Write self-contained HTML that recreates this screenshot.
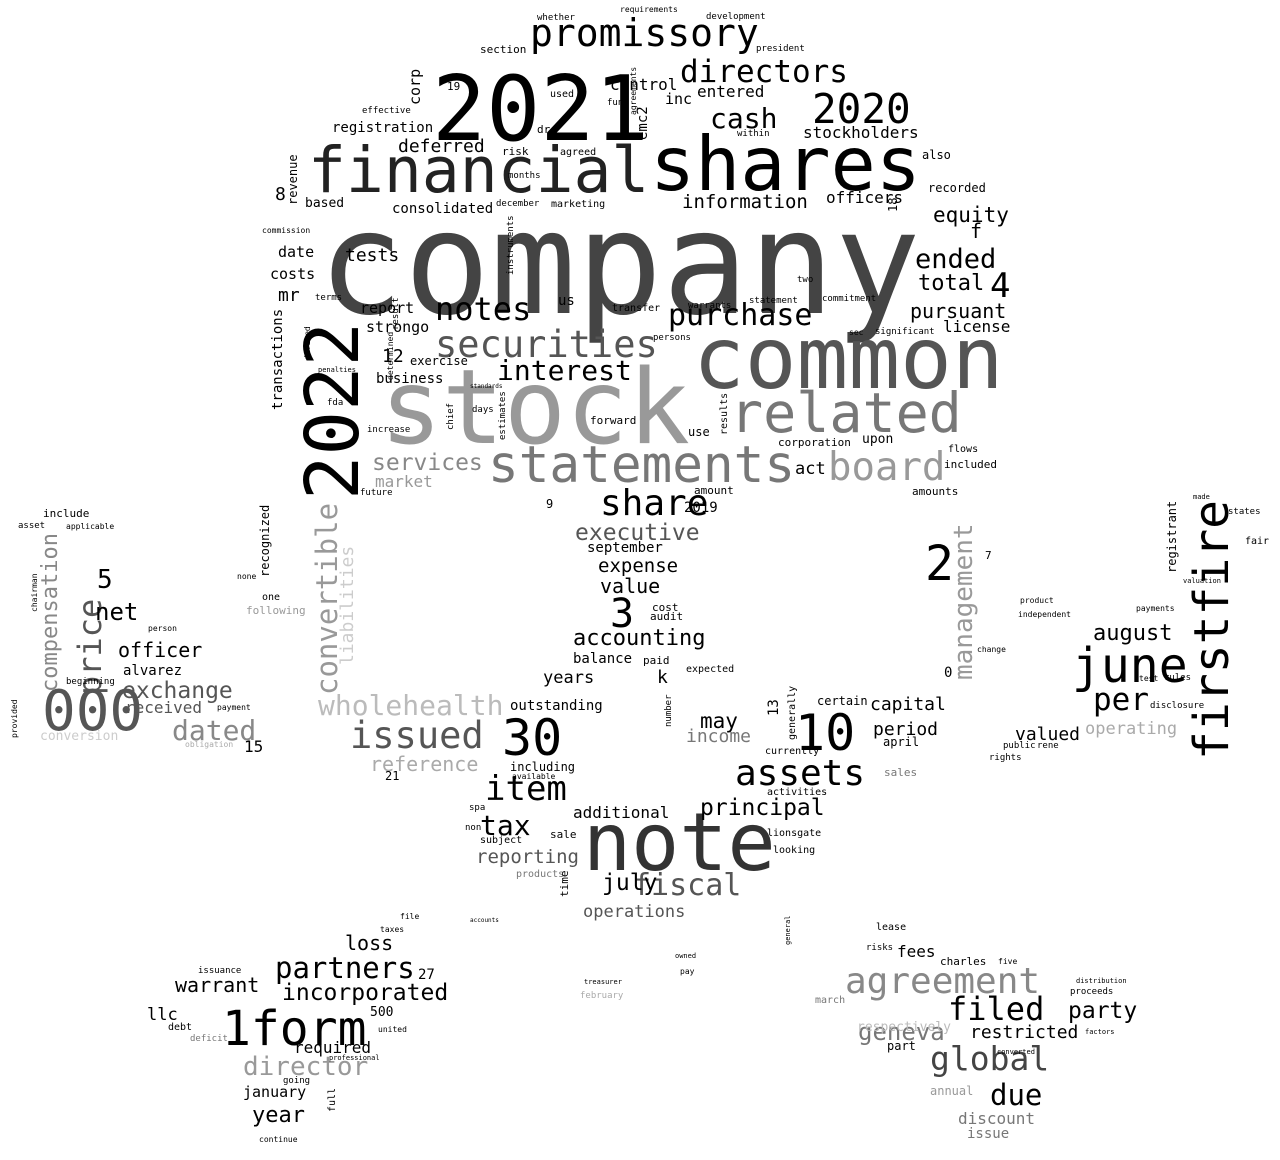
<!DOCTYPE html>
<html>
<head>
<meta charset="utf-8">
<style>
  html,body{margin:0;padding:0;background:#fff;}
  #cloud{display:block;}
  text{font-family:"DejaVu Sans Mono","Liberation Mono",monospace;}
</style>
</head>
<body>
<svg id="cloud" width="1280" height="1160" viewBox="0 0 1280 1160" xmlns="http://www.w3.org/2000/svg">
  <rect width="1280" height="1160" fill="#ffffff"/>
  <g id="words"></g>
</svg>
<script>
// word, font size (weight), x, y (baseline), color, vertical(1)
const words = [
["company",143,318,313,"#444",0],
["stock",103,380,443,"#999",0],
["common",86,693,388,"#555",0],
["shares",75,650,190,"#000",0],
["financial",63,308,192,"#222",0],
["2021",90,432,140,"#000",0],
["note",80,583,870,"#333",0],
["2022",74,358,500,"#000",1],
["statements",51,488,482,"#777",0],
["related",55,730,432,"#777",0],
["agreement",36,845,993,"#888",0],
["june",48,1072,682,"#000",0],
["firstfire",48,1228,760,"#000",1],
["1form",48,222,1045,"#000",0],
["000",56,42,730,"#555",0],
["10",50,795,750,"#000",0],
["30",50,502,755,"#000",0],
["2020",41,812,123,"#000",0],
["promissory",38,530,46,"#000",0],
["directors",31,680,82,"#000",0],
["securities",37,435,357,"#555",0],
["notes",32,435,320,"#000",0],
["purchase",30,668,325,"#000",0],
["interest",28,497,380,"#000",0],
["board",39,828,480,"#999",0],
["share",36,600,515,"#000",0],
["issued",37,350,748,"#555",0],
["assets",36,735,785,"#000",0],
["global",33,930,1070,"#444",0],
["filed",32,948,1020,"#000",0],
["partners",29,275,978,"#000",0],
["incorporated",23,282,1000,"#000",0],
["item",34,485,800,"#000",0],
["tax",28,480,835,"#000",0],
["fiscal",30,633,895,"#555",0],
["july",23,602,890,"#000",0],
["principal",23,700,815,"#000",0],
["wholehealth",28,318,715,"#bbb",0],
["convertible",29,337,695,"#999",1],
["dated",28,172,740,"#888",0],
["director",26,243,1075,"#999",0],
["year",22,252,1122,"#000",0],
["cash",28,710,128,"#000",0],
["price",32,101,695,"#555",1],
["compensation",22,57,692,"#888",1],
["management",26,972,680,"#999",1],
["2",48,925,580,"#000",0],
["3",40,610,627,"#000",0],
["4",34,990,297,"#000",0],
["5",26,97,588,"#000",0],
["due",29,990,1105,"#000",0],
["party",23,1068,1018,"#000",0],
["geneva",24,858,1040,"#777",0],
["restricted",18,970,1038,"#000",0],
["exchange",23,122,698,"#555",0],
["officer",20,118,657,"#000",0],
["net",24,95,620,"#000",0],
["per",31,1093,710,"#000",0],
["august",22,1093,640,"#000",0],
["accounting",22,573,645,"#000",0],
["executive",23,575,540,"#555",0],
["expense",19,598,572,"#000",0],
["value",20,600,593,"#000",0],
["years",17,543,683,"#000",0],
["balance",14,573,663,"#000",0],
["outstanding",14,510,710,"#000",0],
["additional",16,573,818,"#000",0],
["reporting",19,476,863,"#555",0],
["operations",17,583,917,"#555",0],
["reference",20,370,771,"#aaa",0],
["services",23,372,470,"#888",0],
["market",16,375,487,"#999",0],
["act",17,795,474,"#000",0],
["equity",21,933,222,"#000",0],
["ended",27,915,268,"#000",0],
["total",22,918,290,"#000",0],
["pursuant",20,910,318,"#000",0],
["license",16,943,332,"#000",0],
["information",19,682,208,"#000",0],
["officers",16,826,203,"#000",0],
["consolidated",14,392,213,"#000",0],
["deferred",18,398,152,"#000",0],
["registration",14,332,132,"#000",0],
["stockholders",16,803,138,"#000",0],
["entered",16,697,97,"#000",0],
["inc",15,665,104,"#000",0],
["control",16,610,90,"#000",0],
["tests",18,345,261,"#000",0],
["report",15,360,313,"#000",0],
["strongo",15,366,332,"#000",0],
["business",14,376,383,"#000",0],
["12",18,382,362,"#000",0],
["mr",18,278,301,"#000",0],
["costs",15,270,279,"#000",0],
["date",15,278,257,"#000",0],
["capital",18,870,710,"#000",0],
["period",18,873,735,"#000",0],
["valued",18,1015,740,"#000",0],
["operating",17,1085,734,"#aaa",0],
["income",18,686,742,"#777",0],
["may",21,700,728,"#000",0],
["k",18,657,683,"#000",0],
["loss",20,345,950,"#000",0],
["warrant",20,175,992,"#000",0],
["llc",17,147,1020,"#000",0],
["required",16,294,1053,"#000",0],
["january",15,243,1097,"#000",0],
["500",13,370,1016,"#000",0],
["27",14,418,979,"#000",0],
["15",16,244,752,"#000",0],
["received",16,125,713,"#555",0],
["alvarez",14,123,675,"#000",0],
["fees",16,897,957,"#000",0],
["discount",16,958,1124,"#777",0],
["issue",14,967,1138,"#777",0],
["charles",11,940,965,"#000",0],
["part",12,887,1050,"#000",0],
["annual",12,930,1095,"#999",0],
["respectively",13,857,1031,"#bbb",0],
["lease",10,876,930,"#000",0],
["risks",9,866,950,"#000",0],
["march",10,815,1003,"#777",0],
["sales",11,884,776,"#777",0],
["april",12,883,746,"#000",0],
["currently",10,765,754,"#000",0],
["certain",12,817,705,"#000",0],
["13",14,778,716,"#000",1],
["activities",10,767,795,"#000",0],
["lionsgate",10,767,836,"#000",0],
["looking",10,773,853,"#000",0],
["expected",10,686,672,"#000",0],
["paid",11,643,664,"#000",0],
["audit",11,650,620,"#000",0],
["cost",11,652,611,"#000",0],
["september",14,587,552,"#000",0],
["2019",14,684,512,"#000",0],
["9",12,546,508,"#000",0],
["amount",11,694,494,"#000",0],
["amounts",11,912,495,"#000",0],
["included",11,944,468,"#000",0],
["flows",10,948,452,"#000",0],
["upon",13,862,443,"#000",0],
["corporation",11,778,446,"#000",0],
["use",12,688,436,"#000",0],
["forward",11,590,424,"#000",0],
["increase",9,367,432,"#000",0],
["future",9,360,495,"#000",0],
["fda",9,327,405,"#000",0],
["terms",9,315,300,"#000",0],
["based",13,305,207,"#000",0],
["corp",15,420,105,"#000",1],
["emc2",14,647,140,"#000",1],
["19",11,447,90,"#000",0],
["risk",11,502,155,"#000",0],
["agreed",10,560,155,"#000",0],
["dr",11,537,133,"#000",0],
["used",10,550,97,"#000",0],
["fund",9,607,105,"#000",0],
["months",9,508,178,"#000",0],
["december",9,496,206,"#000",0],
["marketing",10,551,207,"#000",0],
["effective",9,362,113,"#000",0],
["section",11,480,53,"#000",0],
["whether",9,537,20,"#000",0],
["development",9,706,19,"#000",0],
["requirements",8,620,12,"#000",0],
["president",9,756,51,"#000",0],
["within",9,737,136,"#000",0],
["also",12,922,159,"#000",0],
["recorded",12,928,192,"#000",0],
["f",20,970,238,"#000",0],
["18",12,897,212,"#000",1],
["8",18,275,200,"#000",0],
["revenue",12,297,205,"#000",1],
["commission",8,262,233,"#000",0],
["us",14,558,305,"#000",0],
["transfer",10,612,311,"#000",0],
["warrants",9,688,308,"#000",0],
["statement",9,749,303,"#000",0],
["two",9,797,282,"#000",0],
["commitment",9,822,301,"#000",0],
["sec",8,849,335,"#000",0],
["significant",9,875,334,"#000",0],
["persons",9,653,340,"#000",0],
["exercise",12,410,365,"#000",0],
["transactions",14,282,410,"#000",1],
["recognized",12,269,577,"#000",1],
["liabilities",18,353,665,"#ccc",1],
["following",11,246,614,"#999",0],
["one",10,262,600,"#000",0],
["none",8,237,579,"#000",0],
["include",11,43,517,"#000",0],
["applicable",8,66,529,"#000",0],
["asset",9,18,528,"#000",0],
["chairman",8,37,612,"#000",1],
["person",8,148,631,"#000",0],
["beginning",9,66,684,"#000",0],
["payment",8,217,710,"#000",0],
["conversion",13,40,740,"#ccc",0],
["provided",8,17,738,"#000",1],
["obligation",8,185,747,"#aaa",0],
["21",12,385,780,"#000",0],
["including",12,510,771,"#000",0],
["available",8,512,779,"#000",0],
["non",9,465,830,"#000",0],
["subject",10,480,843,"#000",0],
["spa",9,469,810,"#000",0],
["sale",11,550,838,"#000",0],
["products",10,516,877,"#777",0],
["time",11,568,897,"#000",1],
["issuance",9,198,973,"#000",0],
["debt",10,168,1030,"#000",0],
["deficit",9,190,1041,"#777",0],
["going",9,283,1083,"#000",0],
["continue",8,259,1142,"#000",0],
["full",10,335,1112,"#000",1],
["united",8,378,1032,"#000",0],
["professional",7,329,1060,"#000",0],
["treasurer",7,584,984,"#000",0],
["february",9,580,998,"#aaa",0],
["pay",8,680,974,"#000",0],
["taxes",8,380,932,"#000",0],
["file",8,400,919,"#000",0],
["accounts",6,470,922,"#000",0],
["general",7,790,945,"#000",1],
["owned",7,675,958,"#000",0],
["five",8,998,964,"#000",0],
["converted",7,997,1054,"#000",0],
["factors",7,1085,1034,"#000",0],
["proceeds",9,1070,994,"#000",0],
["distribution",7,1076,983,"#000",0],
["registrant",12,1176,573,"#000",1],
["states",9,1228,514,"#000",0],
["fair",10,1245,544,"#000",0],
["made",7,1193,499,"#000",0],
["valuation",7,1183,583,"#000",0],
["payments",8,1136,611,"#000",0],
["independent",8,1018,617,"#000",0],
["product",8,1020,603,"#000",0],
["disclosure",9,1150,708,"#000",0],
["rules",9,1164,680,"#000",0],
["test",8,1139,681,"#000",0],
["public",9,1003,748,"#000",0],
["rene",9,1037,748,"#000",0],
["rights",9,989,760,"#000",0],
["change",8,977,652,"#000",0],
["0",14,944,677,"#000",0],
["7",11,985,559,"#000",0],
["number",9,671,727,"#000",1],
["results",10,727,435,"#000",1],
["estimates",9,505,440,"#000",1],
["instruments",9,513,275,"#000",1],
["result",9,398,330,"#000",1],
["determined",8,393,380,"#000",1],
["chief",9,453,430,"#000",1],
["defined",8,310,360,"#000",1],
["agreements",8,636,115,"#000",1],
["generally",10,795,740,"#000",1],
["days",9,472,412,"#000",0],
["penalties",7,318,372,"#000",0],
["standards",6,470,388,"#000",0]
];
const g = document.getElementById('words');
const NS = 'http://www.w3.org/2000/svg';
words.forEach(function(w){
  if (!w[1]) return;
  const t = document.createElementNS(NS,'text');
  
  
  t.setAttribute('font-size', w[1]);
  t.setAttribute('fill', w[4]);
  if (w[5]) {
    t.setAttribute('transform', 'translate(' + w[2] + ',' + w[3] + ') rotate(-90)');
  } else {
    t.setAttribute('x', w[2]);
    t.setAttribute('y', w[3]);
  }
  t.textContent = w[0];
  g.appendChild(t);
});
</script>
</body>
</html>
